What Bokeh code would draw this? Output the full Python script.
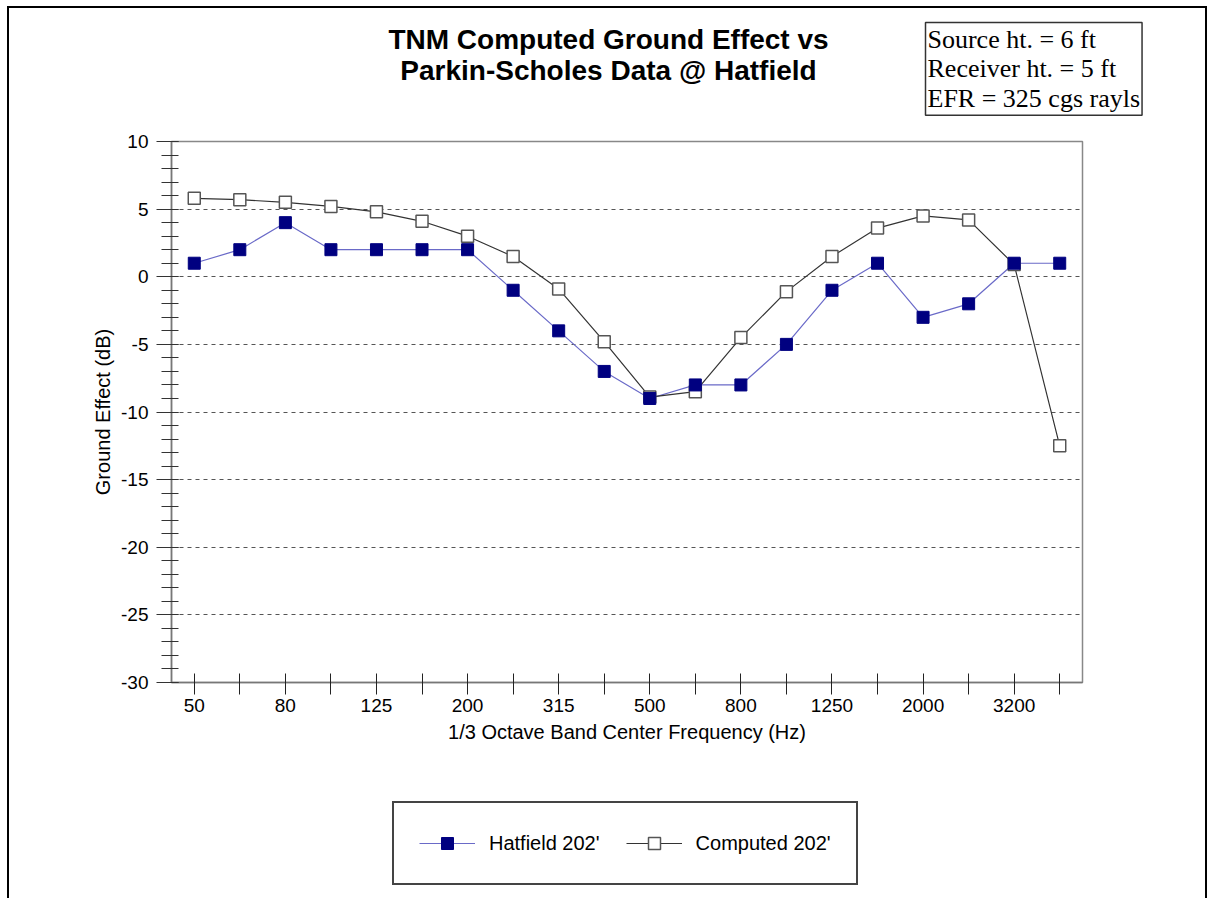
from bokeh.plotting import figure
from bokeh.models import (Range1d, SingleIntervalTicker, FixedTicker, Label,
                          Legend, LegendItem)
from bokeh.embed import file_html
from bokeh.resources import INLINE

freqs = ["50", "63", "80", "100", "125", "160", "200", "250", "315", "400",
         "500", "630", "800", "1000", "1250", "1600", "2000", "2500", "3200", "4000"]
hatfield = [1, 2, 4, 2, 2, 2, 2, -1, -4, -7, -9, -8, -8, -5, -1, 1, -3, -2, 1, 1]
computed = [5.8, 5.7, 5.5, 5.2, 4.8, 4.1, 3.0, 1.5, -0.9, -4.8, -8.9, -8.5, -4.5,
            -1.1, 1.5, 3.6, 4.5, 4.2, 0.9, -12.5]
shown_labels = ["50", "80", "125", "200", "315", "500", "800", "1250", "2000", "3200"]
y_ticks = [-30, -25, -20, -15, -10, -5, 0, 5, 10]

title_text = "TNM Computed Ground Effect vs\nParkin-Scholes Data @ Hatfield"
info_text = "Source ht. = 6 ft\nReceiver ht. = 5 ft\nEFR = 325 cgs rayls"
series_names = ["Hatfield 202'", "Computed 202'"]

FONT = "Liberation Sans"
W = 1200
H_COLOR, H_LINE = "#000080", "#6a6ac8"
C_EDGE, C_LINE = "#555555", "#333333"

xpos = list(range(len(freqs)))


def blank(height, styles):
    f = figure(width=W, height=height, output_backend="svg", toolbar_location=None,
               x_axis_location=None, y_axis_location=None, min_border=0,
               x_range=Range1d(-3, -2), y_range=Range1d(0, 1))
    f.grid.visible = False
    f.outline_line_color = None
    f.styles = styles
    return f


# ---------- header (title + info box) ----------
header = blank(120, {"margin-top": "6px", "margin-left": "7px",
                     "border-top": "2px solid black", "border-left": "2px solid black",
                     "border-right": "2px solid black"})
header.add_layout(Label(x=599, y=105, x_units="screen", y_units="screen",
                        text=title_text, text_align="center", anchor="top_center",
                        text_font=FONT, text_font_style="bold", text_font_size="28px",
                        text_line_height=1.0, text_color="black"))
header.add_layout(Label(x=916, y=106, x_units="screen", y_units="screen",
                        text=info_text, anchor="top_left", text_align="left",
                        text_font="Liberation Serif", text_font_size="26px",
                        text_line_height=1.03, padding=2, text_color="black",
                        border_line_color="#333333", border_line_width=1.5,
                        background_fill_color="white"))

# ---------- main plot ----------
p = figure(width=W, height=632, x_range=Range1d(-0.5, len(freqs) - 0.5),
           y_range=Range1d(min(y_ticks), max(y_ticks)), output_backend="svg",
           toolbar_location=None,
           min_border_left=162, min_border_right=127, min_border_top=15,
           min_border_bottom=76)
p.styles = {"margin-left": "7px",
            "border-left": "2px solid black", "border-right": "2px solid black"}

p.outline_line_color = "#888888"
p.outline_line_width = 1.5
p.xgrid.visible = False
p.ygrid.grid_line_color = "#555555"
p.ygrid.grid_line_dash = "4 4"
p.ygrid.grid_line_width = 1

p.yaxis.ticker = SingleIntervalTicker(interval=5, num_minor_ticks=5)
p.yaxis.major_label_overrides = {v: str(v) for v in y_ticks}
p.yaxis.axis_line_color = "#777777"
p.yaxis.axis_line_width = 1.5
p.yaxis.major_tick_line_color = "#333333"
p.yaxis.minor_tick_line_color = "#333333"
p.yaxis.major_tick_out = 15
p.yaxis.major_tick_in = 7
p.yaxis.minor_tick_out = 10
p.yaxis.minor_tick_in = 7
p.yaxis.major_label_standoff = 8
p.yaxis.major_label_text_font = FONT
p.yaxis.major_label_text_font_size = "19px"
p.yaxis.major_label_text_color = "black"
p.yaxis.axis_label = "Ground Effect (dB)"
p.yaxis.axis_label_text_font = FONT
p.yaxis.axis_label_text_font_size = "20px"
p.yaxis.axis_label_text_font_style = "normal"
p.yaxis.axis_label_text_color = "black"
p.yaxis.axis_label_standoff = 4

p.xaxis.ticker = FixedTicker(ticks=xpos)
p.xaxis.major_label_overrides = {i: (f if f in shown_labels else "") for i, f in zip(xpos, freqs)}
p.xaxis.axis_line_color = "#777777"
p.xaxis.axis_line_width = 1.5
p.xaxis.major_tick_line_color = "#222222"
p.xaxis.minor_tick_line_color = None
p.xaxis.major_tick_out = 12
p.xaxis.major_tick_in = 9
p.xaxis.major_label_standoff = 4
p.xaxis.major_label_text_font = FONT
p.xaxis.major_label_text_font_size = "19px"
p.xaxis.major_label_text_color = "black"
p.xaxis.axis_label = "1/3 Octave Band Center Frequency (Hz)"
p.xaxis.axis_label_text_font = FONT
p.xaxis.axis_label_text_font_size = "20px"
p.xaxis.axis_label_text_font_style = "normal"
p.xaxis.axis_label_text_color = "black"
p.xaxis.axis_label_standoff = 6

p.line(xpos, hatfield, line_color=H_LINE, line_width=1.2)
p.line(xpos, computed, line_color=C_LINE, line_width=1.2)
p.scatter(xpos, computed, marker="square", size=12, fill_color="white",
          line_color=C_EDGE, line_width=1.5)
p.scatter(xpos, hatfield, marker="square", size=12, fill_color=H_COLOR,
          line_color=H_COLOR, line_width=1)

# ---------- footer (legend); series drawn outside its view, only the key shows ----------
footer = blank(140, {"margin-left": "7px",
                     "border-left": "2px solid black", "border-right": "2px solid black"})
lh = footer.line(xpos, hatfield, line_color=H_LINE, line_width=1.2)
sh = footer.scatter(xpos, hatfield, marker="square", size=12, fill_color=H_COLOR,
                    line_color=H_COLOR, line_width=1)
lc = footer.line(xpos, computed, line_color=C_LINE, line_width=1.2)
sc = footer.scatter(xpos, computed, marker="square", size=12, fill_color="white",
                    line_color=C_EDGE, line_width=1.5)
legend = Legend(items=[LegendItem(label=series_names[0], renderers=[lh, sh]),
                       LegendItem(label=series_names[1], renderers=[lc, sc])],
                orientation="horizontal", location=(383, 13), margin=0,
                padding=25, spacing=26, glyph_width=56, glyph_height=30,
                label_standoff=14, label_text_font=FONT, label_text_font_size="20px",
                label_text_color="black",
                border_line_color="#444444", border_line_width=2, border_line_alpha=1,
                background_fill_color="white", background_fill_alpha=1)
footer.add_layout(legend, "center")

open("out.html", "w").write(file_html([header, p, footer], INLINE))
